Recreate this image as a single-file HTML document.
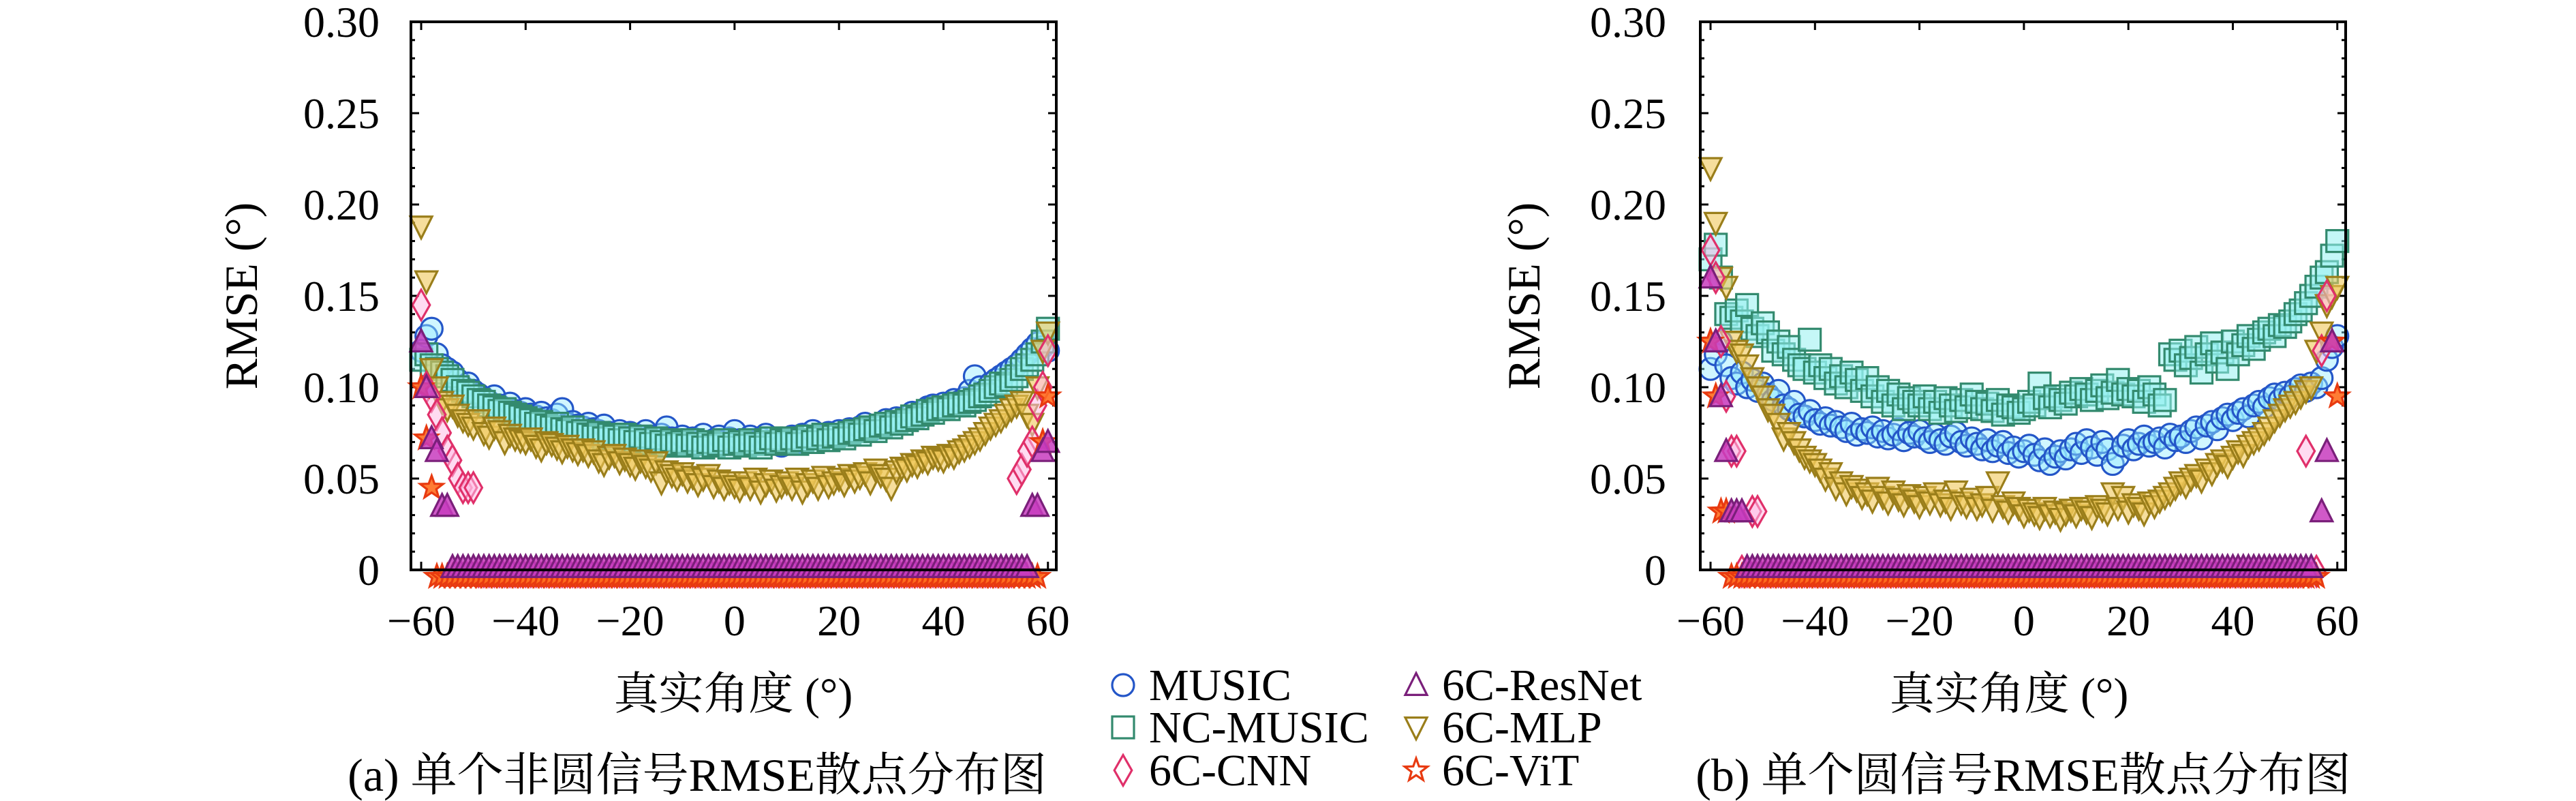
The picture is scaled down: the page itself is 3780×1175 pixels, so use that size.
<!DOCTYPE html>
<html><head><meta charset="utf-8"><style>
html,body{margin:0;padding:0;background:#fff;}
svg{display:block;}
svg text{font-family:"Liberation Serif","Noto Serif CJK SC",serif;fill:#000;}
</style></head><body>
<svg id="chart" width="3780" height="1175" viewBox="0 0 3780 1175" xmlns="http://www.w3.org/2000/svg">
<g id="legend"></g>
</svg>
<script>
const xTicks=[-60,-40,-20,0,20,40,60];
const yTicks=[0,0.05,0.10,0.15,0.20,0.25,0.30];
const yTickLabels=["0","0.05","0.10","0.15","0.20","0.25","0.30"];
const seriesNames=["MUSIC","NC-MUSIC","6C-CNN","6C-ResNet","6C-MLP","6C-ViT"];
const angles=[];for(let a=-60;a<=60;a++)angles.push(a);

const aMusic=[.120,.128,.132,.118,.112,.110,.108,.104,.100,.102,
.098,.096,.094,.092,.095,.090,.088,.091,.087,.086,
.088,.085,.084,.086,.083,.082,.085,.088,.080,.081,
.079,.078,.080,.077,.076,.079,.075,.074,.076,.073,
.075,.074,.072,.076,.073,.071,.074,.078,.072,.070,
.073,.071,.072,.070,.074,.069,.071,.073,.070,.072,
.076,.071,.070,.073,.069,.072,.074,.070,.071,.068,
.072,.073,.070,.074,.071,.076,.073,.072,.075,.074,
.076,.074,.077,.075,.078,.080,.076,.079,.078,.082,
.080,.083,.081,.084,.086,.083,.087,.089,.090,.088,
.091,.090,.093,.092,.094,.098,.106,.100,.098,.102,
.104,.106,.108,.110,.112,.115,.118,.121,.124,.122,.120];
const aNc=[.115,.118,.112,.110,.108,.106,.104,.100,.098,.097,
.095,.093,.092,.090,.089,.087,.088,.086,.085,.084,
.083,.082,.080,.081,.079,.078,.080,.077,.076,.078,
.075,.076,.074,.073,.075,.072,.074,.073,.071,.074,
.072,.070,.073,.071,.069,.072,.070,.068,.071,.069,
.070,.068,.071,.069,.067,.070,.068,.069,.071,.067,
.069,.070,.068,.071,.069,.067,.070,.072,.069,.071,
.070,.072,.069,.071,.073,.070,.072,.074,.071,.073,
.074,.072,.075,.076,.074,.077,.078,.076,.079,.080,
.078,.081,.080,.082,.084,.083,.085,.087,.086,.088,
.089,.088,.090,.091,.090,.092,.093,.095,.096,.098,
.100,.102,.101,.104,.106,.110,.112,.115,.118,.125,.132];
const aMlp=[.188,.158,.110,.100,.092,.088,.090,.085,.082,.080,
.078,.082,.075,.073,.078,.076,.070,.074,.072,.071,
.070,.072,.068,.066,.070,.069,.067,.065,.068,.066,
.064,.066,.063,.065,.060,.058,.062,.063,.059,.061,
.058,.056,.060,.057,.055,.059,.048,.054,.052,.050,
.053,.049,.051,.047,.050,.052,.046,.049,.045,.048,
.046,.044,.048,.045,.050,.043,.047,.049,.044,.046,
.048,.045,.050,.043,.047,.049,.045,.051,.046,.048,
.050,.047,.052,.049,.051,.053,.048,.055,.052,.050,
.045,.054,.056,.055,.058,.057,.060,.059,.062,.061,
.060,.063,.062,.065,.066,.068,.070,.072,.075,.078,
.080,.082,.085,.088,.090,.092,.085,.080,.100,.120,.130];
const aCnnHead=[.145,.100,.095,.085,.075,.065,.060,.050,.045,.045,.045];
const aCnnTail=[.050,.055,.065,.070,.090,.100,.120];
const aResHead=[.125,.100,.072,.065,.035,.035];
const aResTail=[.035,.035,.065,.070];
const aVitHead=[.100,.072,.045];
const aVitTail=[.070,.095];

const bMusic=[.110,.118,.125,.112,.105,.102,.108,.100,.104,.098,
.102,.096,.093,.098,.090,.088,.092,.085,.084,.087,
.082,.080,.083,.079,.081,.078,.076,.080,.074,.077,
.075,.078,.073,.076,.072,.074,.077,.071,.075,.073,
.076,.072,.070,.074,.071,.069,.073,.075,.070,.068,
.072,.069,.066,.071,.065,.068,.070,.064,.067,.062,
.065,.068,.063,.060,.066,.058,.062,.065,.061,.066,
.069,.064,.071,.067,.063,.070,.066,.058,.062,.068,
.071,.066,.069,.073,.068,.070,.072,.067,.074,.071,
.073,.070,.076,.078,.072,.079,.081,.077,.083,.085,
.082,.086,.088,.084,.090,.092,.089,.094,.096,.093,
.097,.095,.099,.101,.098,.102,.100,.105,.115,.122,.128];
const bNc=[.170,.178,.160,.140,.138,.142,.136,.145,.132,.128,
.135,.130,.120,.125,.118,.122,.115,.112,.110,.126,
.108,.112,.105,.110,.102,.106,.100,.108,.104,.098,
.105,.095,.100,.092,.098,.090,.096,.088,.094,.092,
.090,.095,.088,.092,.086,.094,.090,.087,.093,.089,
.096,.092,.088,.091,.087,.093,.085,.090,.089,.086,
.088,.092,.090,.102,.094,.089,.095,.093,.091,.097,
.095,.099,.096,.093,.098,.101,.094,.097,.104,.096,
.099,.095,.098,.092,.100,.096,.090,.093,.118,.115,
.120,.112,.116,.122,.108,.118,.124,.114,.119,.110,
.125,.118,.123,.128,.121,.126,.130,.132,.128,.134,
.133,.136,.140,.142,.146,.150,.155,.160,.163,.172,.180];
const bMlp=[.220,.190,.160,.155,.125,.120,.118,.112,.105,.100,
.095,.088,.085,.080,.072,.075,.070,.066,.062,.060,
.058,.055,.050,.053,.045,.048,.042,.046,.044,.040,
.042,.038,.045,.040,.037,.043,.039,.036,.041,.038,
.035,.040,.037,.042,.036,.038,.034,.043,.037,.035,
.039,.034,.036,.040,.033,.048,.035,.032,.037,.034,
.030,.033,.031,.029,.034,.030,.032,.028,.031,.033,
.030,.034,.032,.029,.035,.033,.031,.042,.034,.040,
.032,.036,.034,.031,.037,.035,.038,.040,.042,.045,
.048,.046,.050,.052,.049,.055,.053,.058,.060,.057,
.062,.065,.063,.068,.070,.072,.075,.078,.082,.085,
.088,.090,.092,.095,.098,.100,.120,.130,.145,.150,.155];
const bCnnHead=[.175,.160,.125,.095,.065,.065,0,0,.032,.032];
const bCnnTail=[.065,0,0,.120,.150,.160,.190];
const bResHead=[.160,.125,.095,.065,.032,.032,.032];
const bResTail=[.032,.065,.125,.130];
const bVitHead=[.125,.095,.032,.032];
const bVitTail=[.125,.095];

const NS="http://www.w3.org/2000/svg";
const FONT='"Liberation Serif","Noto Serif CJK SC",serif';
const svg=document.getElementById('chart');
const styles={
 "MUSIC":{shape:"circle",stroke:"#2456c8",fill:"rgba(150,235,255,0.45)"},
 "NC-MUSIC":{shape:"square",stroke:"#338a6e",fill:"rgba(150,240,240,0.55)"},
 "6C-CNN":{shape:"diamond",stroke:"#e0306a",fill:"rgba(255,190,230,0.55)"},
 "6C-ResNet":{shape:"tri",stroke:"#7a1f7a",fill:"rgba(200,60,190,0.85)"},
 "6C-MLP":{shape:"dtri",stroke:"#9a7e1a",fill:"rgba(240,200,90,0.6)"},
 "6C-ViT":{shape:"star",stroke:"#e83a10",fill:"rgba(255,110,30,0.9)"}
};
function mk(tag,attrs,parent){const e=document.createElementNS(NS,tag);for(const k in attrs)e.setAttribute(k,attrs[k]);parent.appendChild(e);return e;}
function markerShape(parent,shape,cx,cy,st){
 const r=16;let e;
 if(shape==="circle"){e=mk('circle',{cx:cx,cy:cy,r:r},parent);}
 else if(shape==="square"){e=mk('rect',{x:cx-r,y:cy-r,width:2*r,height:2*r},parent);}
 else if(shape==="diamond"){e=mk('polygon',{points:`${cx},${cy-r*1.4} ${cx+r*0.8},${cy} ${cx},${cy+r*1.4} ${cx-r*0.8},${cy}`},parent);}
 else if(shape==="tri"){e=mk('polygon',{points:`${cx},${cy-r*1.1} ${cx+r},${cy+r*0.9} ${cx-r},${cy+r*0.9}`},parent);}
 else if(shape==="dtri"){e=mk('polygon',{points:`${cx-r},${cy-r*0.9} ${cx+r},${cy-r*0.9} ${cx},${cy+r*1.1}`},parent);}
 else {let p=[];for(let i=0;i<10;i++){const rr=i%2?r*0.45:r*1.1;const ang=-Math.PI/2+i*Math.PI/5;p.push((cx+rr*Math.cos(ang)).toFixed(1)+","+(cy+rr*Math.sin(ang)).toFixed(1));}e=mk('polygon',{points:p.join(' ')},parent);}
 e.setAttribute('stroke',st.stroke);e.setAttribute('fill',st.fill);e.setAttribute('stroke-width','3.2');
 return e;
}
function txt(parent,attrs,s){const t=mk('text',attrs,parent);t.setAttribute('font-family',FONT);t.textContent=s;return t;}
function buildSparse(head,tail,zeroFrom,zeroTo){
 const out=[];for(let i=0;i<angles.length;i++)out.push(null);
 head.forEach((v,i)=>{out[i]=v;});
 for(let a=zeroFrom;a<=zeroTo;a++){const i=a+60;if(out[i]===null)out[i]=0;}
 tail.forEach((v,i)=>{out[angles.length-tail.length+i]=v;});
 return out;
}
function panel(id,bx,dataSets,caption,yTitleX,yLabRight,xLabCx,capCx){
 const g=mk('g',{},svg);
 
 
 const W=947,T=32,B=836,xmin=-61.96,xmax=61.6,ymax=0.30;
 const X=v=>bx+(v-xmin)/(xmax-xmin)*W;
 const Y=v=>B-v/ymax*(B-T);
 const ax=mk('g',{},g);
 
 
 for(let k=0;k<=30;k++){const v=k/100;const len=(k%5===0)?12:6;
  mk('line',{x1:bx,x2:bx+len,y1:Y(v),y2:Y(v),stroke:'#000','stroke-width':3},ax);
  mk('line',{x1:bx+W,x2:bx+W-len,y1:Y(v),y2:Y(v),stroke:'#000','stroke-width':3},ax);}
 xTicks.forEach(t=>{mk('line',{x1:X(t),x2:X(t),y1:B,y2:B-12,stroke:'#000','stroke-width':3},ax);
  mk('line',{x1:X(t),x2:X(t),y1:T,y2:T+12,stroke:'#000','stroke-width':3},ax);
  const tx=txt(ax,{x:X(t),y:932,'font-size':64,'text-anchor':'middle'},(t<0?'\u2212'+(-t):String(t)));
  
  });
 yTicks.forEach((t,i)=>{const tx=txt(ax,{x:yLabRight,y:Y(t)+22,'font-size':64,'text-anchor':'end'},yTickLabels[i]);
  
  });
 const pts=mk('g',{},g);
 
 
 dataSets.forEach(ds=>{const st=styles[ds.name];const sg=mk('g',{},pts);
  
  
  ds.values.forEach((v,i)=>{if(v===null)return;const m=markerShape(sg,st.shape,X(angles[i]),Y(v)+(v===0?ds.zoff:0),st);
   
   });});
 const frame=mk('rect',{x:bx,y:T,width:W,height:B-T,fill:'none',stroke:'#000','stroke-width':4},g);
 
 
 const yt=txt(g,{x:yTitleX,y:434,'font-size':68,'text-anchor':'middle',transform:`rotate(-90 ${yTitleX} 434)`,'dominant-baseline':'central'},'RMSE (°)');
 
 
 const xt=txt(g,{x:xLabCx,y:1040,'font-size':66,'text-anchor':'middle'},'真实角度 (°)');
 
 
 const ct=txt(g,{x:capCx,y:1160,'font-size':68,'text-anchor':'middle'},caption);
 
 
}
panel('panel-a-noncircular',603,[
 {name:"MUSIC",values:aMusic,zoff:0},{name:"NC-MUSIC",values:aNc,zoff:0},
 {name:"6C-MLP",values:aMlp,zoff:0},
 {name:"6C-CNN",values:buildSparse(aCnnHead,aCnnTail,-56,59),zoff:2},
 {name:"6C-ViT",values:buildSparse(aVitHead,aVitTail,-57,58),zoff:10},
 {name:"6C-ResNet",values:buildSparse(aResHead,aResTail,-54,56),zoff:-4}
],'(a) 单个非圆信号RMSE散点分布图',354,557,1076,1023);
panel('panel-b-circular',2495,[
 {name:"MUSIC",values:bMusic,zoff:0},{name:"NC-MUSIC",values:bNc,zoff:0},
 {name:"6C-MLP",values:bMlp,zoff:0},
 {name:"6C-CNN",values:buildSparse(bCnnHead,bCnnTail,-57,56).map((v,i)=>angles[i]>58?null:v),zoff:2},
 {name:"6C-ViT",values:buildSparse(bVitHead,bVitTail,-56,56),zoff:10},
 {name:"6C-ResNet",values:buildSparse(bResHead,bResTail,-53,55).map((v,i)=>angles[i]>59?null:v),zoff:-4}
],'(b) 单个圆信号RMSE散点分布图',2236,2445,2948,2969);

const lg=document.getElementById('legend');
const legPos=[[1648,1005],[1648,1067],[1648,1130],[2078,1005],[2078,1067],[2078,1130]];
seriesNames.forEach((n,i)=>{const st=styles[n];const [x,y]=legPos[i];
 const e=mk('g',{},lg);
 
 
 markerShape(e,st.shape,x,y,{stroke:st.stroke,fill:'rgba(255,255,255,0)'});
 txt(e,{x:x+38,y:y+22,'font-size':66},n);});
</script>
</body></html>
